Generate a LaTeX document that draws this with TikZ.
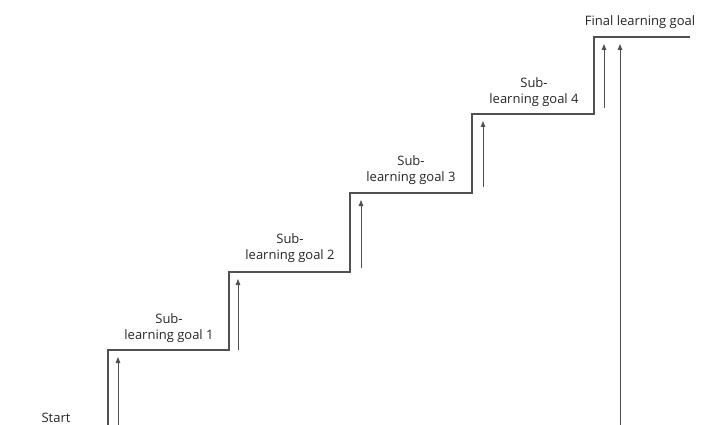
\documentclass[tikz,border=0pt]{standalone}
\usepackage{fontspec}
\setmainfont{Open Sans}
\usetikzlibrary{arrows.meta}
\definecolor{stairgray}{HTML}{505050}
\tikzset{
  stair/.style={draw=stairgray, line width=1.2pt},
  rise/.style={draw=stairgray, line width=1pt, -{Triangle[length=6pt,width=4.5pt]}},
  goal/.style={font=\fontsize{13}{16.5}\selectfont, text=black!85, align=center, inner sep=0pt}
}
\begin{document}
\begin{tikzpicture}[x=1pt,y=-1pt]
  \useasboundingbox (0,0) rectangle (701,425);
  % corners of the staircase
  \coordinate (s0) at (108,425);
  \coordinate (s1a) at (108,350); \coordinate (s1b) at (229,350);
  \coordinate (s2a) at (229,272); \coordinate (s2b) at (350,272);
  \coordinate (s3a) at (350,193); \coordinate (s3b) at (472,193);
  \coordinate (s4a) at (472,114); \coordinate (s4b) at (594,114);
  \coordinate (s5a) at (594,37);  \coordinate (s5b) at (690,37);
  \draw[stair] (s0) -- (s1a) -- (s1b) -- (s2a) -- (s2b) -- (s3a) -- (s3b)
    -- (s4a) -- (s4b) -- (s5a) -- (s5b);

  % arrows climbing each step
  \coordinate (a1s) at (118,425); \coordinate (a1e) at (118,357);
  \coordinate (a2s) at (238,350); \coordinate (a2e) at (238,279);
  \coordinate (a3s) at (361,268); \coordinate (a3e) at (361,200);
  \coordinate (a4s) at (483,187); \coordinate (a4e) at (483,121);
  \coordinate (a5s) at (604,108); \coordinate (a5e) at (604,44);
  \coordinate (a6s) at (620,425); \coordinate (a6e) at (620,44);
  \draw[rise] (a1s) -- (a1e);
  \draw[rise] (a2s) -- (a2e);
  \draw[rise] (a3s) -- (a3e);
  \draw[rise] (a4s) -- (a4e);
  \draw[rise] (a5s) -- (a5e);
  \draw[rise] (a6s) -- (a6e);

  % labels
  \node[goal] (start) at (56,418) {Start};
  \node[goal] (g1) at (169,328) {Sub-\\learning goal 1};
  \node[goal] (g2) at (290,248) {Sub-\\learning goal 2};
  \node[goal] (g3) at (411,170) {Sub-\\learning goal 3};
  \node[goal] (g4) at (534,92) {Sub-\\learning goal 4};
  \node[goal] (final) at (640,22) {Final learning goal};
\end{tikzpicture}
\end{document}
